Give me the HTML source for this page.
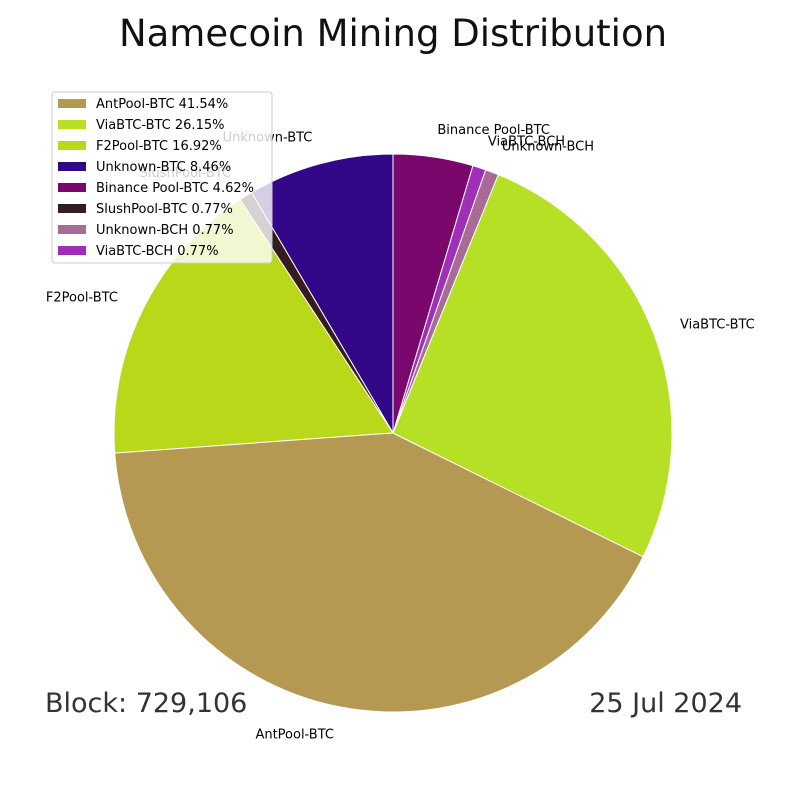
<!DOCTYPE html>
<html><head><meta charset="utf-8"><style>
body{margin:0;background:#fff;font-family:"Liberation Sans","DejaVu Sans",sans-serif}
#c{position:relative;width:800px;height:800px}
</style></head><body>
<div id="c">
<svg id="s" width="800" height="800" xmlns="http://www.w3.org/2000/svg" font-family="DejaVu Sans, Liberation Sans, sans-serif">
<text x="393" y="46" text-anchor="middle" font-size="37" fill="#111">Namecoin Mining Distribution</text>
<g id="pie"></g>
<g id="labels"></g>
<g id="legend"></g>
<text x="45" y="712" font-size="27" fill="#333">Block: 729,106</text>
<text x="742" y="712" text-anchor="end" font-size="27" fill="#333">25 Jul 2024</text>
</svg>
</div>
<script>
const categories=["Unknown-BTC","SlushPool-BTC","F2Pool-BTC","AntPool-BTC","ViaBTC-BTC","Unknown-BCH","ViaBTC-BCH","Binance Pool-BTC"];
const values=[8.46,0.77,16.92,41.54,26.15,0.77,0.77,4.62];
const colors=["#330888","#351c20","#bad81a","#b59851","#b5e026","#a86b96","#a02fb8","#7a076c"];
const legendOrder=[3,4,2,0,7,1,5,6];
const NS="http://www.w3.org/2000/svg";
const cx=393,cy=433,r=279;
const pie=document.getElementById('pie'),lab=document.getElementById('labels'),leg=document.getElementById('legend');
const total=values.reduce((a,b)=>a+b,0);
let a=90;
function pt(deg,rr){const t=deg*Math.PI/180;return [cx+rr*Math.cos(t),cy-rr*Math.sin(t)];}
values.forEach((v,i)=>{
  const sweep=v/total*360,a2=a+sweep;
  const p1=pt(a,r),p2=pt(a2,r);
  const path=document.createElementNS(NS,'path');
  path.setAttribute('d',`M${cx},${cy}L${p1[0]},${p1[1]}A${r},${r} 0 ${sweep>180?1:0} 0 ${p2[0]},${p2[1]}Z`);
  path.setAttribute('fill',colors[i]);path.setAttribute('stroke','#fff');path.setAttribute('stroke-width','1');
  
  
  pie.appendChild(path);
  const mid=(a+a2)/2,lp=pt(mid,r*1.1);
  const t=document.createElementNS(NS,'text');
  t.setAttribute('x',lp[0]);t.setAttribute('y',lp[1]+4.5);
  t.setAttribute('text-anchor',lp[0]>=cx?'start':'end');
  t.setAttribute('font-size','13');t.setAttribute('fill','#000');
  t.textContent=categories[i];
  
  
  lab.appendChild(t);
  a=a2;
});
const bg=document.createElementNS(NS,'rect');
bg.setAttribute('x',52);bg.setAttribute('y',92);bg.setAttribute('width',220);bg.setAttribute('height',171);bg.setAttribute('rx',3);
bg.setAttribute('fill','rgba(255,255,255,0.8)');bg.setAttribute('stroke','#ccc');


leg.appendChild(bg);
legendOrder.forEach((idx,k)=>{
  const y=102+k*21;
  const sw=document.createElementNS(NS,'rect');
  sw.setAttribute('x',58);sw.setAttribute('y',y-3);sw.setAttribute('width',28);sw.setAttribute('height',9);sw.setAttribute('fill',colors[idx]);
  
  
  leg.appendChild(sw);
  const t=document.createElementNS(NS,'text');
  t.setAttribute('x',96);t.setAttribute('y',y+6);t.setAttribute('font-size','13');t.setAttribute('fill','#000');
  t.textContent=categories[idx]+' '+values[idx].toFixed(2)+'%';
  
  
  leg.appendChild(t);
});
</script>
</body></html>
